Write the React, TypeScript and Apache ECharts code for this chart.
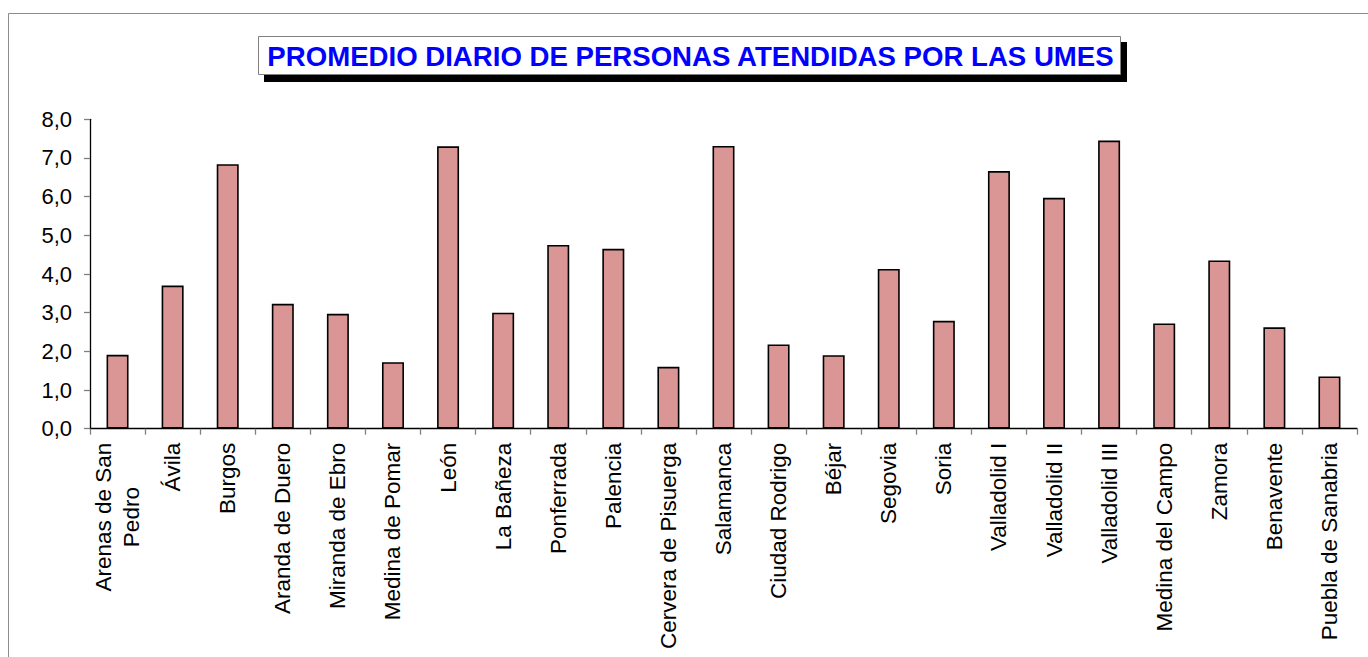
import React, { useEffect, useRef } from "react";
import * as echarts from "echarts";

const categories: string[] = [
  "Arenas de San\nPedro",
  "Ávila",
  "Burgos",
  "Aranda de Duero",
  "Miranda de Ebro",
  "Medina de Pomar",
  "León",
  "La Bañeza",
  "Ponferrada",
  "Palencia",
  "Cervera de Pisuerga",
  "Salamanca",
  "Ciudad Rodrigo",
  "Béjar",
  "Segovia",
  "Soria",
  "Valladolid I",
  "Valladolid II",
  "Valladolid III",
  "Medina del Campo",
  "Zamora",
  "Benavente",
  "Puebla de Sanabria",
];

const values: number[] = [
  1.91, 3.7, 6.84, 3.23, 2.97, 1.72, 7.3, 3.0, 4.75, 4.65, 1.6, 7.31, 2.18,
  1.9, 4.13, 2.79, 6.66, 5.97, 7.45, 2.72, 4.35, 2.62, 1.35,
];

const titleText = "PROMEDIO DIARIO DE PERSONAS ATENDIDAS POR LAS UMES";
const yMin = 0;
const yMax = 8;
const yInterval = 1;

const FONT = "Arial, 'Liberation Sans', sans-serif";

export default function App() {
  const ref = useRef<HTMLDivElement>(null);

  useEffect(() => {
    if (!ref.current) return;
    const chart = echarts.init(ref.current, null, { renderer: "svg" });
    chart.setOption({
      animation: false,
      backgroundColor: "#ffffff",
      grid: { left: 90, right: 11, top: 119.3, bottom: 657 - 428.7, containLabel: false },
      graphic: [
        {
          type: "rect",
          shape: { x: 8.5, y: 13.5, width: 1400, height: 700 },
          style: { fill: "none", stroke: "#8c8c8c", lineWidth: 1 },
          silent: true,
        },
        {
          type: "rect",
          shape: { x: 264, y: 42, width: 863, height: 40 },
          style: { fill: "#000000" },
          silent: true,
        },
        {
          type: "rect",
          shape: { x: 258.5, y: 36.5, width: 862, height: 38 },
          style: { fill: "#ffffff", stroke: "#808080", lineWidth: 1 },
          silent: true,
        },
        {
          type: "text",
          x: 690.5,
          y: 56,
          style: {
            text: titleText,
            fill: "#0000ff",
            font: `bold 27.6px ${FONT}`,
            align: "center",
            verticalAlign: "middle",
          },
          silent: true,
        },
      ],
      xAxis: {
        type: "category",
        data: categories,
        boundaryGap: true,
        axisLine: { show: true, lineStyle: { color: "#000000", width: 1.3 } },
        axisTick: {
          show: true,
          alignWithLabel: false,
          length: 6,
          lineStyle: { color: "#808080", width: 1.3 },
        },
        axisLabel: {
          interval: 0,
          rotate: 90,
          margin: 14,
          color: "#000000",
          fontFamily: FONT,
          fontSize: 22.5,
          lineHeight: 28,
          formatter: (v: string) =>
            v
              .split("\n")
              .map((s) => `{c|${s}}`)
              .join("\n"),
          rich: {
            c: {
              align: "center",
              fontFamily: FONT,
              fontSize: 22.5,
              lineHeight: 28,
              color: "#000000",
            },
          },
        },
        splitLine: { show: false },
      },
      yAxis: {
        type: "value",
        min: yMin,
        max: yMax,
        interval: yInterval,
        axisLine: { show: true, lineStyle: { color: "#000000", width: 1.3 } },
        axisTick: {
          show: true,
          length: 6,
          lineStyle: { color: "#808080", width: 1.3 },
        },
        axisLabel: {
          margin: 18,
          color: "#000000",
          fontFamily: FONT,
          fontSize: 22,
          formatter: (v: number) => v.toFixed(1).replace(".", ","),
        },
        splitLine: { show: false },
      },
      series: [
        {
          type: "bar",
          data: values,
          barWidth: 22,
          itemStyle: {
            color: "#da9694",
            borderColor: "#000000",
            borderWidth: 1.6,
          },
        },
      ],
    });
    return () => chart.dispose();
  }, []);

  return (
    <div
      ref={ref}
      style={{ position: "fixed", left: 0, top: 0, width: 1368, height: 657 }}
    />
  );
}
